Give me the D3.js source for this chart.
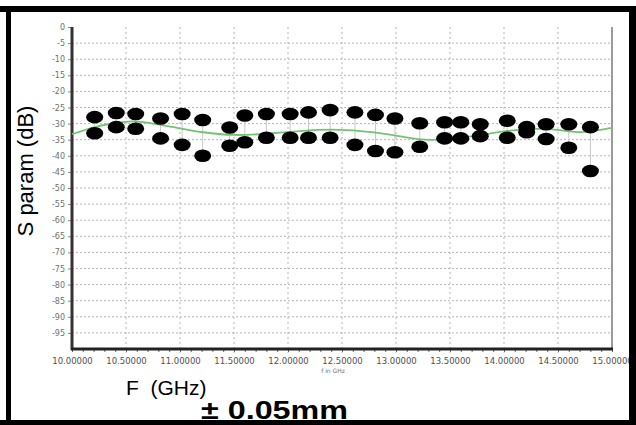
<!DOCTYPE html>
<html>
<head>
<meta charset="utf-8">
<script src="https://cdn.jsdelivr.net/npm/d3@7"></script>
<style>
  body { margin: 0; background: #fff; }
  svg { display: block; }
  .tick text { font-family: "DejaVu Sans", sans-serif; fill: #666; }
</style>
</head>
<body>
<div id="chart"></div>
<script>
// frequency of each measured pair (GHz)
var freqs = [10.21, 10.41, 10.59, 10.82, 11.02, 11.21, 11.46, 11.60, 11.80, 12.02, 12.19, 12.39,
             12.62, 12.81, 12.99, 13.22, 13.45, 13.60, 13.78, 14.03, 14.21, 14.39, 14.60, 14.80];
// upper and lower S parameter readings (dB)
var upperDb = [-28, -26.7, -27, -28.4, -27, -28.9, -31.2, -27.5, -27, -27, -26.5, -25.8,
               -26.5, -27.3, -28.4, -29.9, -29.6, -29.6, -30.2, -29.1, -31.1, -30.2, -30.2, -31.1];
var lowerDb = [-33, -31.1, -31.6, -34.6, -36.6, -40, -36.9, -35.8, -34.4, -34.4, -34.4, -34.4,
               -36.6, -38.5, -38.9, -37.2, -34.6, -34.6, -33.9, -34.4, -32.7, -34.8, -37.5, -44.7];
// green trend curve
var fitFreqs = [10.0, 10.2, 10.41, 10.56, 10.7, 11.0, 11.2, 11.49, 11.8, 12.11, 12.42, 12.67,
                12.94, 13.22, 13.41, 13.69, 13.78, 14.06, 14.33, 14.52, 14.68, 14.8, 15.0];
var fitDb = [-33.3, -31, -29.7, -29.1, -29.6, -31.5, -32.7, -33.8, -33.2, -32.3, -31.7, -32.3,
             -33.3, -35.1, -35.1, -34.0, -33.6, -32, -31.5, -32, -32.8, -32.5, -31.3];
// axis ticks
var xTicks = [10, 10.5, 11, 11.5, 12, 12.5, 13, 13.5, 14, 14.5, 15];
var yTicks = [0, -5, -10, -15, -20, -25, -30, -35, -40, -45, -50, -55, -60, -65, -70, -75, -80, -85, -90, -95];

(function () {
    var W = 636, H = 425;
    var plotL = 72, plotR = 612, plotT = 27, plotB = 349;

    var svg = d3.select("#chart").append("svg")
            .attr("width", W)
            .attr("height", H);

    svg.append("rect").attr("width", W).attr("height", H).attr("fill", "#fff");

    var x = d3.scaleLinear().domain([10, 15]).range([plotL, plotR]);
    var y = d3.scaleLinear().domain([-100, 0]).range([plotB, plotT]);

    // grid
    svg.append("g").selectAll("line")
            .data(yTicks.filter(function(d) { return d !== 0; }))
            .enter().append("line")
            .attr("x1", plotL).attr("x2", plotR)
            .attr("y1", function(d) { return y(d); })
            .attr("y2", function(d) { return y(d); })
            .attr("stroke", "#b4b4b4")
            .attr("stroke-width", 1)
            .attr("stroke-dasharray", "2,2");

    svg.append("g").selectAll("line")
            .data(xTicks.slice(1, -1))
            .enter().append("line")
            .attr("x1", function(d) { return x(d); })
            .attr("x2", function(d) { return x(d); })
            .attr("y1", plotT).attr("y2", plotB + 4)
            .attr("stroke", "#b4b4b4")
            .attr("stroke-width", 1)
            .attr("stroke-dasharray", "2,3");

    // right border of plot
    svg.append("line")
            .attr("x1", plotR).attr("x2", plotR)
            .attr("y1", plotT).attr("y2", plotB)
            .attr("stroke", "#9a9a9a").attr("stroke-width", 2);

    // axes
    var yAxis = d3.axisLeft(y).tickValues(yTicks).tickSize(4).tickPadding(3)
            .tickFormat(function(d) { return String(d); });
    var gy = svg.append("g")
            .attr("transform", "translate(" + plotL + ",0)")
            .call(yAxis);
    gy.select(".domain").remove();
    gy.selectAll(".tick line").attr("stroke", "#888");
    gy.selectAll(".tick text").style("font-size", "8px").style("fill", "#707070");

    var xMinor = d3.axisBottom(x).ticks(50).tickSize(3).tickFormat("");
    var gm = svg.append("g")
            .attr("transform", "translate(0," + plotB + ")")
            .call(xMinor);
    gm.select(".domain").remove();
    gm.selectAll(".tick line").attr("stroke", "#666");

    var xAxis = d3.axisBottom(x).tickValues(xTicks).tickSize(0).tickPadding(9)
            .tickFormat(d3.format(".5f"));
    var gx = svg.append("g")
            .attr("transform", "translate(0," + plotB + ")")
            .call(xAxis);
    gx.select(".domain").remove();
    gx.selectAll(".tick text").style("font-size", "8.5px").style("fill", "#505050");

    svg.append("line")
            .attr("x1", plotL).attr("x2", plotL)
            .attr("y1", plotT).attr("y2", plotB + 1)
            .attr("stroke", "#333").attr("stroke-width", 3);
    svg.append("line")
            .attr("x1", plotL - 1).attr("x2", plotR + 1)
            .attr("y1", plotB).attr("y2", plotB)
            .attr("stroke", "#222").attr("stroke-width", 3);

    // range lines between pairs
    svg.append("g").selectAll("line")
            .data(freqs)
            .enter().append("line")
            .attr("x1", function(d) { return x(d); })
            .attr("x2", function(d) { return x(d); })
            .attr("y1", function(d, i) { return y(upperDb[i]); })
            .attr("y2", function(d, i) { return y(lowerDb[i]); })
            .attr("stroke", "#c8c8c8")
            .attr("stroke-width", 1);

    // trend line
    var line = d3.line()
            .x(function(d, i) { return x(fitFreqs[i]); })
            .y(function(d) { return y(d); })
            .curve(d3.curveBasis);
    svg.append("path")
            .datum(fitDb)
            .attr("d", line)
            .attr("fill", "none")
            .attr("stroke", "#72c472")
            .attr("stroke-width", 1.8);

    // dots
    var dots = svg.append("g");
    [upperDb, lowerDb].forEach(function(series) {
        dots.selectAll(null)
                .data(freqs)
                .enter().append("ellipse")
                .attr("cx", function(d) { return x(d); })
                .attr("cy", function(d, i) { return y(series[i]); })
                .attr("rx", 8.5)
                .attr("ry", 6.3)
                .attr("fill", "#000");
    });

    // texts
    svg.append("text")
            .attr("x", 333).attr("y", 373)
            .attr("text-anchor", "middle")
            .style("font-family", "DejaVu Sans, sans-serif")
            .style("font-size", "6px")
            .attr("fill", "#707070")
            .text("f in GHz");

    svg.append("text")
            .attr("transform", "translate(33,171) rotate(-90)")
            .attr("text-anchor", "middle")
            .style("font-family", "Liberation Sans, Arial, sans-serif")
            .style("font-size", "22px")
            .attr("fill", "#000")
            .text("S param (dB)");

    svg.append("text")
            .attr("x", 126).attr("y", 395)
            .style("font-family", "Liberation Sans, Arial, sans-serif")
            .style("font-size", "21px")
            .style("white-space", "pre")
            .attr("fill", "#000")
            .text("F  (GHz)");

    svg.append("text")
            .attr("x", 201).attr("y", 419)
            .attr("textLength", 147)
            .attr("lengthAdjust", "spacingAndGlyphs")
            .style("font-family", "Liberation Sans, Arial, sans-serif")
            .style("font-size", "25px")
            .style("font-weight", "bold")
            .attr("fill", "#000")
            .text("\u00b1 0.05mm");

    // black frame
    svg.append("rect").attr("x", 0).attr("y", 6).attr("width", W).attr("height", 6).attr("fill", "#000");
    svg.append("rect").attr("x", 6).attr("y", 6).attr("width", 5).attr("height", H).attr("fill", "#000");
    svg.append("rect").attr("x", 629).attr("y", 6).attr("width", 7).attr("height", H).attr("fill", "#000");
    svg.append("rect").attr("x", 0).attr("y", 420).attr("width", W).attr("height", 5).attr("fill", "#000");
})();
</script>
</body>
</html>
